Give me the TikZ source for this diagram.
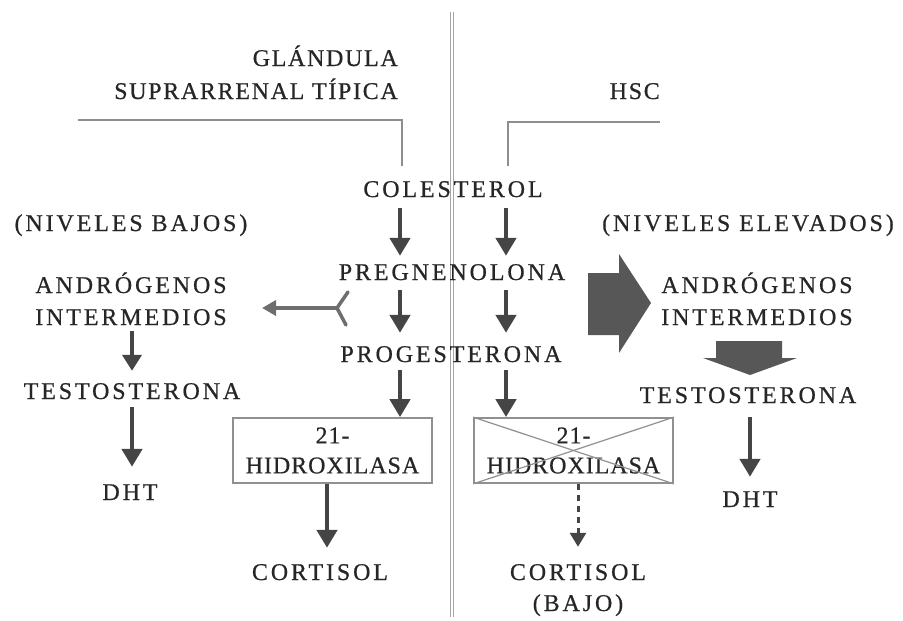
\documentclass[tikz,border=0pt]{standalone}
\usepackage{fontspec}
\setmainfont{Liberation Serif}
\newfontfamily\spacedfont[LetterSpace=12,FakeBold=0.6]{Liberation Serif}
\newfontfamily\headfont[LetterSpace=7,FakeBold=0.6]{Liberation Serif}
\newfontfamily\boxfont[LetterSpace=4,FakeBold=0.6]{Liberation Serif}
\usetikzlibrary{arrows.meta}
\definecolor{ink}{HTML}{262626}
\definecolor{arrowgray}{HTML}{454545}
\definecolor{branchgray}{HTML}{6E6E6E}
\definecolor{rulegray}{HTML}{8E8E8E}
\definecolor{boxgray}{HTML}{909090}
\definecolor{fatgray}{HTML}{575757}

\begin{document}
\begin{tikzpicture}[x=1pt,y=-1pt,
  lbl/.style={inner sep=0pt, text height=16pt, text depth=0pt,
    font=\spacedfont\fontsize{24}{30}\selectfont, text=ink},
  hd/.style={inner sep=0pt, text height=16pt, text depth=0pt,
    font=\headfont\fontsize{24}{30}\selectfont, text=ink},
  enzbox/.style={draw=boxgray, line width=1.8pt, inner sep=0pt,
    minimum width=199pt, minimum height=65pt, align=center,
    font=\boxfont\fontsize{24}{30}\selectfont, text=ink},
  arr/.style={draw=arrowgray, line width=4.5pt,
    -{Triangle[length=18pt,width=20pt]}},
  smallarr/.style={draw=arrowgray, line width=4pt,
    -{Triangle[length=16pt,width=19pt]}},
  dasharr/.style={draw=arrowgray, line width=3pt, dashed,
    dash pattern=on 6pt off 5pt,
    -{Triangle[length=14pt,width=16pt,sep=0pt]}},
  yarr/.style={draw=branchgray, line width=3.5pt,
    -{Triangle[length=14pt,width=15pt]}},
  rule/.style={draw=rulegray, line width=1.8pt},
  midrule/.style={draw=rulegray!80, line width=1.3pt},
  fat/.style={fill=fatgray, draw=none}
]
\path[use as bounding box] (0,0) rectangle (903,621);

% column positions
\coordinate (L) at (400,0);
\coordinate (R) at (506,0);

% central divider (double rule)
\coordinate (divtop) at (452,12);
\coordinate (divbot) at (452,617);
\draw[midrule] ([xshift=-1.6pt]divtop) -- ([xshift=-1.6pt]divbot);
\draw[midrule] ([xshift=1.6pt]divtop) -- ([xshift=1.6pt]divbot);

% headings
\node[hd, anchor=east] (gl1) at (398,58) {GLÁNDULA};
\node[hd, anchor=east] (gl2) at (398,91) {SUPRARRENAL TÍPICA};
\node[hd, anchor=east] (hsc) at (660,91) {HSC};

% heading brackets
\coordinate (bl1) at (78,120);
\coordinate (bl2) at (402,120);
\coordinate (bl3) at (402,166);
\draw[rule] (bl1) -- (bl2) -- (bl3);
\coordinate (br1) at (508,166);
\coordinate (br2) at (508,122);
\coordinate (br3) at (660,122);
\draw[rule] (br1) -- (br2) -- (br3);

% central pathway
\node[lbl] (col) at (453,189) {COLESTEROL};
\node[lbl] (preg) at (452,272) {PREGNENOLONA};
\node[lbl] (prog) at (451,354) {PROGESTERONA};

\draw[arr, shorten <=11pt, shorten >=8pt] (col.south -| L) -- (preg.north -| L);
\draw[arr, shorten <=11pt, shorten >=8pt] (col.south -| R) -- (preg.north -| R);
\draw[arr, shorten <=10pt, shorten >=13pt] (preg.south -| L) -- (prog.north -| L);
\draw[arr, shorten <=10pt, shorten >=13pt] (preg.south -| R) -- (prog.north -| R);

% 21-hydroxylase boxes
\node[enzbox] (hxl) at (332.5,450.5) {21-\\HIDROXILASA};
\node[enzbox] (hxr) at (573.5,450.5) {21-\\HIDROXILASA};
\draw[boxgray, line width=1.2pt] (hxr.north west) -- (hxr.south east);
\draw[boxgray, line width=1.2pt] (hxr.south west) -- (hxr.north east);

\draw[arr, shorten <=8pt] (prog.south -| L) -- (hxl.north -| L);
\draw[arr, shorten <=8pt] (prog.south -| R) -- (hxr.north -| R);

% cortisol outputs
\node[lbl] (cortl) at (320,572) {CORTISOL};
\node[lbl] (cortr) at (578,572) {CORTISOL};
\node[lbl] (bajo) at (578,603) {(BAJO)};
\coordinate (cl) at (327,0);
\draw[arr, shorten >=16pt] (hxl.south -| cl) -- (cortl.north -| cl);
\draw[dasharr, shorten >=17pt] (hxr.south -| cortr) -- (cortr.north);

% left side: normal gland
\node[lbl] (nb) at (131,223) {(NIVELES BAJOS)};
\node[lbl] (andl1) at (131,285) {ANDRÓGENOS};
\node[lbl] (andl2) at (131,317) {INTERMEDIOS};
\node[lbl] (testl) at (132,391) {TESTOSTERONA};
\node[lbl] (dhtl) at (130,492) {DHT};
\coordinate (xl) at (132,0);
\draw[smallarr, shorten <=6pt, shorten >=12pt] (andl2.south -| xl) -- (testl.north -| xl);
\draw[arr, shorten <=8pt, shorten >=17pt] (testl.south -| xl) -- (dhtl.north -| xl);

% blocked branch towards the androgens
\coordinate (yv) at (337,308);
\coordinate (ya) at (348,292);
\coordinate (yb) at (346,325);
\coordinate (ytip) at (262,308);
\draw[draw=branchgray, line width=3.5pt, line cap=round] (ya) -- (yv) -- (yb);
\draw[yarr] (yv) -- (ytip);

% right side: CAH
\node[lbl] (ne) at (748,223) {(NIVELES ELEVADOS)};
\node[lbl] (andr1) at (757,285) {ANDRÓGENOS};
\node[lbl] (andr2) at (757,317) {INTERMEDIOS};
\node[lbl] (testr) at (748,395) {TESTOSTERONA};
\node[lbl] (dhtr) at (750,499) {DHT};
\coordinate (xr) at (750,0);
\draw[arr, shorten <=14pt, shorten >=14pt] (testr.south -| xr) -- (dhtr.north -| xr);

% broad arrows for the increased flux
\fill[fat] (588,273) -- (619,273) -- (619,254) -- (651,303) -- (619,353)
  -- (619,335) -- (588,335) -- cycle;
\fill[fat] (716,341) -- (782,341) -- (782,358) -- (797,358) -- (750,375)
  -- (703,358) -- (716,358) -- cycle;
\end{tikzpicture}
\end{document}
